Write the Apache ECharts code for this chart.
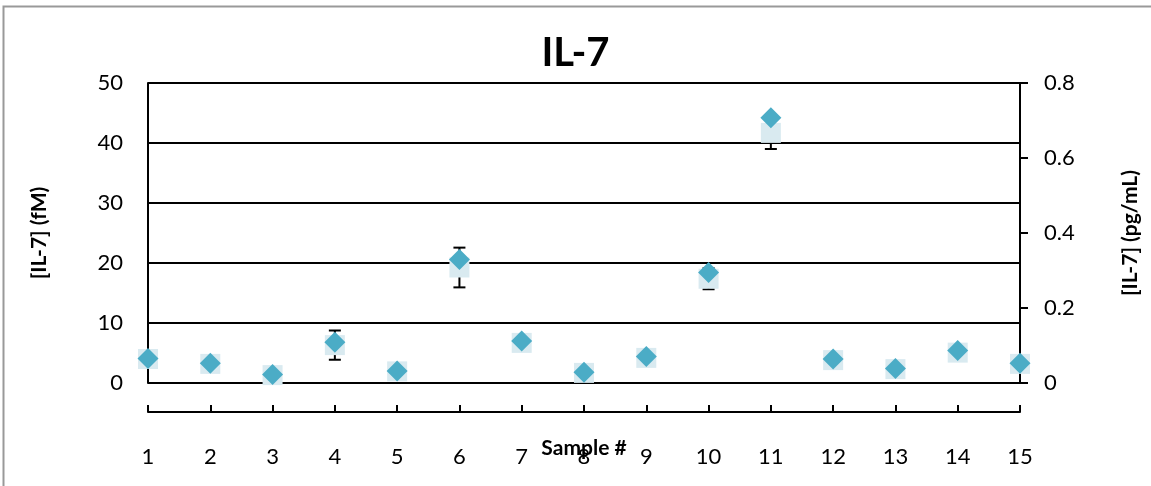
<!DOCTYPE html>
<html>
<head>
<meta charset="utf-8">
<script src="https://cdn.jsdelivr.net/npm/echarts@6/dist/echarts.min.js"></script>
<style>
  html, body { margin: 0; padding: 0; background: #fff; }
  #main { width: 1151px; height: 486px; }
</style>
</head>
<body>
<div id="main"></div>
<script>
// sample numbers and readings
var samples = [1, 2, 3, 4, 5, 6, 7, 8, 9, 10, 11, 12, 13, 14, 15];
var fmValues = [4.1, 3.3, 1.4, 6.8, 2.0, 20.6, 7.0, 1.8, 4.4, 18.4, 44.2, 4.0, 2.4, 5.4, 3.3];
var pgValues = [0.064, 0.051, 0.021, 0.101, 0.031, 0.308, 0.107, 0.027, 0.067, 0.278, 0.667, 0.061, 0.037, 0.081, 0.051];
var pgErrors = [0, 0, 0, 0.039, 0, 0.053, 0, 0, 0, 0.028, 0.043, 0, 0, 0, 0];

var leftTicks = [0, 50, 10];     // min, max, interval
var rightTicks = [0, 0.8, 0.2];

var font = 'Lato, "Open Sans", sans-serif';

var fmData = samples.map(function (s, i) { return [s, fmValues[i]]; });
var pgData = samples.map(function (s, i) { return [s, pgValues[i]]; });
var errData = samples.map(function (s, i) {
  return [s, pgValues[i] - pgErrors[i], pgValues[i] + pgErrors[i]];
});

var chart = echarts.init(document.getElementById('main'));

chart.setOption({
  backgroundColor: '#fff',
  animation: false,
  graphic: [{
    type: 'rect',
    shape: { x: 3.5, y: 6.5, width: 1160, height: 500 },
    style: { fill: 'none', stroke: '#999', lineWidth: 2 },
    silent: true
  }],
  title: {
    text: 'IL-7',
    left: 'center',
    top: 28,
    textStyle: { fontFamily: font, fontWeight: 'bold', fontSize: 40, color: '#000' }
  },
  grid: { left: 148, right: 131, top: 83, bottom: 103, outerBoundsMode: 'none' },
  xAxis: {
    type: 'value',
    min: 1,
    max: 15,
    interval: 1,
    offset: 29,
    name: 'Sample #',
    nameLocation: 'middle',
    nameGap: 26,
    nameMoveOverlap: false,
    nameTextStyle: { fontFamily: font, fontWeight: 'bold', fontSize: 21, color: '#000' },
    axisLine: { show: true, onZero: false, lineStyle: { color: '#000', width: 2 } },
    axisTick: { show: true, inside: true, length: 7, lineStyle: { color: '#000', width: 2 } },
    axisLabel: { margin: 34, fontFamily: font, fontSize: 22, color: '#000' },
    splitLine: { show: false }
  },
  yAxis: [{
    type: 'value',
    min: leftTicks[0],
    max: leftTicks[1],
    interval: leftTicks[2],
    position: 'left',
    name: '[IL-7] (fM)',
    nameLocation: 'middle',
    nameRotate: 90,
    nameGap: 98,
    nameMoveOverlap: false,
    nameTextStyle: { fontFamily: font, fontWeight: 'bold', fontSize: 21, color: '#000' },
    axisLine: { show: true, lineStyle: { color: '#000', width: 2 } },
    axisTick: { show: false },
    axisLabel: { margin: 25, fontFamily: font, fontSize: 22, color: '#000' },
    splitLine: { show: true, lineStyle: { color: '#000', width: 2 } }
  }, {
    type: 'value',
    min: rightTicks[0],
    max: rightTicks[1],
    interval: rightTicks[2],
    position: 'right',
    name: '[IL-7] (pg/mL)',
    nameLocation: 'middle',
    nameRotate: 90,
    nameGap: 100,
    nameMoveOverlap: false,
    nameTextStyle: { fontFamily: font, fontWeight: 'bold', fontSize: 21, color: '#000' },
    axisLine: { show: true, lineStyle: { color: '#000', width: 2 } },
    axisTick: { show: true, length: 8, lineStyle: { color: '#000', width: 2 } },
    axisLabel: { margin: 24, fontFamily: font, fontSize: 22, color: '#000',
      formatter: function (v) { return v === 0 ? '0' : v.toFixed(1); } },
    splitLine: { show: false }
  }],
  series: [{
    // error bars sit under the squares
    type: 'custom',
    yAxisIndex: 1,
    data: errData,
    z: 2,
    renderItem: function (params, api) {
      var lo = api.coord([api.value(0), api.value(1)]);
      var hi = api.coord([api.value(0), api.value(2)]);
      if (Math.abs(hi[1] - lo[1]) < 1) return null;
      var w = 6;
      var st = { stroke: '#000', lineWidth: 2 };
      return {
        type: 'group',
        children: [
          { type: 'line', shape: { x1: lo[0], y1: lo[1], x2: hi[0], y2: hi[1] }, style: st },
          { type: 'line', shape: { x1: lo[0] - w, y1: lo[1], x2: lo[0] + w, y2: lo[1] }, style: st },
          { type: 'line', shape: { x1: hi[0] - w, y1: hi[1], x2: hi[0] + w, y2: hi[1] }, style: st }
        ]
      };
    }
  }, {
    type: 'scatter',
    yAxisIndex: 1,
    symbol: 'rect',
    symbolSize: 20,
    itemStyle: { color: '#d9eaf0', opacity: 1 },
    data: pgData,
    z: 3
  }, {
    type: 'scatter',
    yAxisIndex: 0,
    symbol: 'diamond',
    symbolSize: 21,
    itemStyle: { color: '#4bacc6', opacity: 1 },
    data: fmData,
    z: 4
  }]
});
</script>
</body>
</html>
